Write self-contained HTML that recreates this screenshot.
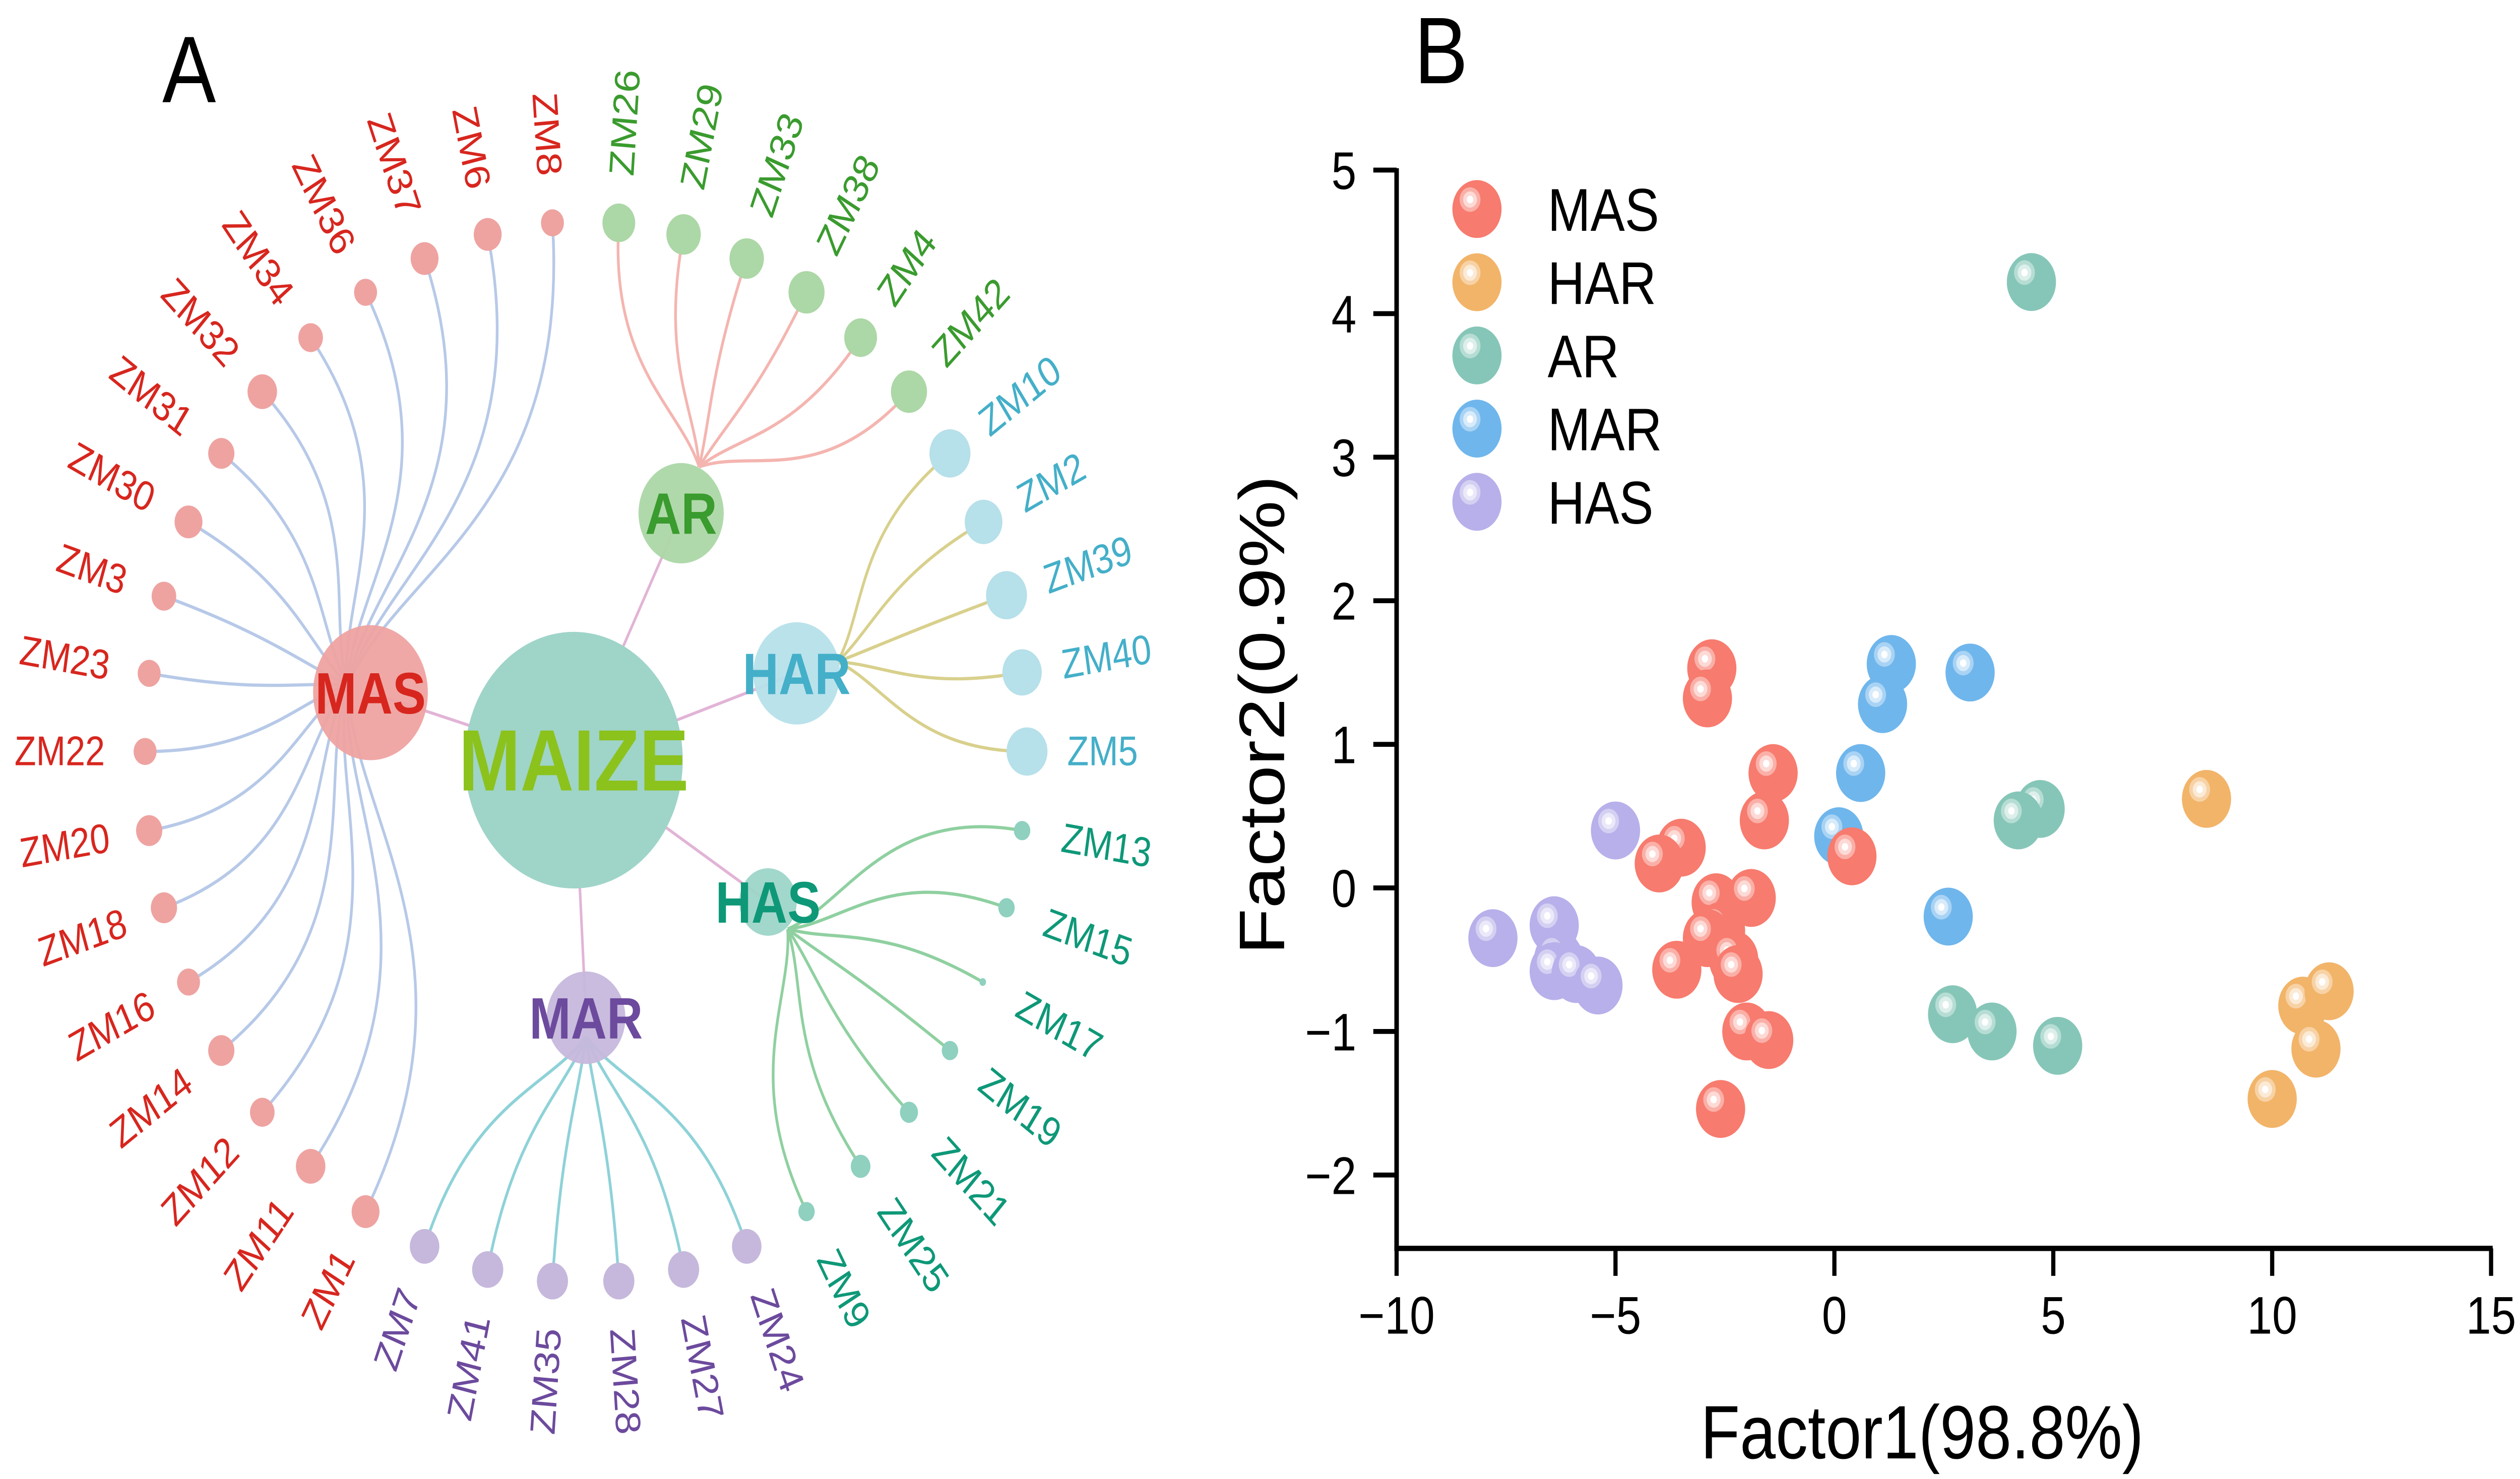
<!DOCTYPE html>
<html><head><meta charset="utf-8">
<style>
html,body{margin:0;padding:0;background:#fff;overflow:hidden;width:100%;height:100%;}
svg{display:block;position:fixed;left:0;top:0;width:100vw;height:100vh;}
text{font-family:"Liberation Sans",Arial,sans-serif;}
</style></head>
<body>
<svg id="fig" viewBox="0 0 1568 781.9" preserveAspectRatio="none" xmlns="http://www.w3.org/2000/svg">
<g id="panelA"></g>
<g id="panelB"></g>
</svg>
<script>
// ---------------- Panel B data ----------------
const groupNames = ["MAS","HAR","AR","MAR","HAS"];
const groupColors = ["#f77b6e","#f2b469","#86c6b8","#6fb6ec","#b7b0ea"];
const masX = [-2.8,-2.9,-1.4,-1.6,-3.5,-4.0,0.4,-2.7,-1.9,-2.6,-2.9,-2.3,-2.2,-3.6,-2.0,-1.5,-2.6];
const masY = [1.53,1.32,0.80,0.47,0.28,0.17,0.22,-0.10,-0.07,-0.30,-0.35,-0.50,-0.60,-0.57,-1.00,-1.06,-1.54];
const harX = [8.5,10.7,11.3,11.0,10.0];
const harY = [0.62,-0.82,-0.72,-1.12,-1.47];
const arX = [4.5,4.7,4.2,2.7,3.6,5.1];
const arY = [4.22,0.55,0.47,-0.88,-1.00,-1.10];
const marX = [1.3,1.1,3.1,0.6,0.1,2.6];
const marY = [1.56,1.28,1.50,0.80,0.36,-0.20];
const hasX = [-5.0,-7.8,-6.4,-6.3,-6.4,-5.9,-5.4];
const hasY = [0.40,-0.35,-0.26,-0.50,-0.58,-0.60,-0.68];
const xTicks = [-10,-5,0,5,10,15];
const yTicks = [-2,-1,0,1,2,3,4,5];
const xTickLabels = ["\u221210","\u22125","0","5","10","15"];
const yTickLabels = ["\u22122","\u22121","0","1","2","3","4","5"];

// ---------------- Panel A data ----------------
const hubNames = ["MAS","AR","HAR","HAS","MAR"];
const leafNames = [
 ["ZM8","ZM6","ZM37","ZM36","ZM34","ZM32","ZM31","ZM30","ZM3","ZM23","ZM22","ZM20","ZM18","ZM16","ZM14","ZM12","ZM11","ZM1"],
 ["ZM26","ZM29","ZM33","ZM38","ZM4","ZM42"],
 ["ZM10","ZM2","ZM39","ZM40","ZM5"],
 ["ZM13","ZM15","ZM17","ZM19","ZM21","ZM25","ZM9"],
 ["ZM24","ZM27","ZM28","ZM35","ZM41","ZM7"]
];
const leafSizes = [
 [14,17,17,14,15,18,16,17,15,14,14,16,16,14,16,15,18,17],
 [20,21,21,22,20,22],
 [25,23,25,24,25],
 [10,10,4,10,11,12,10],
 [18,19,19,19,19,18]
];

const NS="http://www.w3.org/2000/svg";
function mk(tag,attrs,parent){const e=document.createElementNS(NS,tag);for(const k in attrs)e.setAttribute(k,attrs[k]);parent.appendChild(e);return e;}

// ===== Panel A =====
(function(){
 const A=document.getElementById('panelA');
 const s=0.51;
 const t=mk('text',{x:101,y:54,'font-size':50},A);t.textContent='A';
 
 
 const leafPos=[
  [[674,231],[595,243],[518,268],[446,303],[379,350],[320,406],[270,470],[230,541],[200,618],[182,698],[177,779],[182,861],[200,941],[230,1018],[270,1089],[320,1153],[379,1209],[446,1256]],
  [[755,231],[834,243],[911,268],[984,303],[1050,350],[1109,406]],
  [[1159,470],[1200,541],[1228,617],[1247,697],[1253,779]],
  [[1247,861],[1228,941],[1199,1018],[1159,1089],[1109,1153],[1050,1209],[984,1256]],
  [[911,1292],[834,1316],[755,1328],[674,1328],[595,1316],[518,1292]]
 ];
 const hubPos=[[452,718,70],[831,532,52],[972,698,53],[937,935,35],[715,1055,48]];
 const hubOff=[[-28,-8],[22,-48],[50,-12],[24,28],[0,20]];
 const hubFill=["#eea3a1","#acd7a6","#b6e0ea","#9dd5c8","#c6b8dc"];
 const hubText=["#d7261e","#3a9b2e","#44afc9","#0e9878","#6c4a9d"];
 const edgeCol=["#b7c9e8","#f4b5b0","#d8d08c","#8fd0a0","#8ed2d8"];
 const leafFill=["#eea3a1","#acd7a6","#b6e0ea","#8fd0bf","#c6b8dc"];
 const cx=715*s, cy=779.5*s;
 const maize=[700*s,788*s,133*s];
 hubPos.forEach((h,i)=>{
  const l=mk('line',{x1:maize[0],y1:maize[1],x2:h[0]*s,y2:h[1]*s,stroke:'#e2b4d6','stroke-width':1.6},A);
  
  
 });
 hubPos.forEach((h,i)=>{
  const hx=h[0]*s+hubOff[i][0]*s, hy=h[1]*s+hubOff[i][1]*s;
  leafPos[i].forEach((p,j)=>{
   const lx=p[0]*s, ly=p[1]*s;
   const dx=lx-cx, dy=ly-cy, d=Math.hypot(dx,dy);
   const dist=Math.hypot(lx-hx,ly-hy);
   const c2x=lx-dx/d*dist*0.55, c2y=ly-dy/d*dist*0.55;
   const c1x=hx+(lx-hx)*0.25, c1y=hy+(ly-hy)*0.25;
   const path=mk('path',{d:`M${hx},${hy} C${c1x},${c1y} ${c2x},${c2y} ${lx},${ly}`,fill:'none',stroke:edgeCol[i],'stroke-width':1.7},A);
   
   
  });
 });
 const mc=mk('circle',{cx:maize[0],cy:maize[1],r:maize[2],fill:'#9fd4c9'},A);
 
 
 hubPos.forEach((h,i)=>{
  const c=mk('circle',{cx:h[0]*s,cy:h[1]*s,r:h[2]*s,fill:hubFill[i],'fill-opacity':0.95},A);
  
  
 });
 hubPos.forEach((h,i)=>{
  leafPos[i].forEach((p,j)=>{
   const lx=p[0]*s, ly=p[1]*s;
   const c=mk('circle',{cx:lx,cy:ly,r:leafSizes[i][j]*s,fill:leafFill[i]},A);
   
   
   const dx=lx-cx, dy=ly-cy, d=Math.hypot(dx,dy);
   const ang=Math.atan2(dy,dx)*180/Math.PI;
   const R=d+25;
   const tx=cx+dx/d*R, ty=cy+dy/d*R;
   const right=dx>=0;
   const rot=right?ang:ang+180;
   const tt=mk('text',{x:tx,y:ty,'font-size':22,fill:hubText[i],'text-anchor':right?'start':'end','dominant-baseline':'central',transform:`rotate(${rot} ${tx} ${ty})`},A);
   tt.textContent=leafNames[i][j];
   
   
  });
 });
 hubPos.forEach((h,i)=>{
  const tt=mk('text',{x:h[0]*s,y:h[1]*s+11,'font-size':31,'font-weight':'bold',fill:hubText[i],'text-anchor':'middle'},A);
  tt.textContent=hubNames[i];
  
  
 });
 const mt=mk('text',{x:maize[0],y:maize[1]+16,'font-size':46,'font-weight':'bold',fill:'#8cc21c','text-anchor':'middle'},A);
 mt.textContent='MAIZE';
 
 
})();

// ===== Panel B =====
(function(){
 const B=document.getElementById('panelB');
 const x0=869, y0=660;
 const xs=v=>869+(v+10)*27.24;
 const ys=v=>469.4-v*75.9;
 const lb=mk('text',{x:880,y:44,'font-size':50},B);lb.textContent='B';
 
 
 const ya=mk('line',{x1:x0,y1:ys(5)-1,x2:x0,y2:y0+1.4,stroke:'#000','stroke-width':2.8},B);
 
 
 const xa=mk('line',{x1:x0-1.4,y1:y0,x2:xs(15)+1,y2:y0,stroke:'#000','stroke-width':2.8},B);
 
 
 yTicks.forEach((v,i)=>{
  const tk=mk('line',{x1:x0-14.5,y1:ys(v),x2:x0,y2:ys(v),stroke:'#000','stroke-width':2.6},B);
  
  
  const tl=mk('text',{x:x0-25,y:ys(v)+10,'font-size':28,'text-anchor':'end'},B);
  tl.textContent=yTickLabels[i];
  
  
 });
 xTicks.forEach((v,i)=>{
  const tk=mk('line',{x1:xs(v),y1:y0,x2:xs(v),y2:y0+14.5,stroke:'#000','stroke-width':2.6},B);
  
  
  const tl=mk('text',{x:xs(v),y:y0+45,'font-size':28,'text-anchor':'middle'},B);
  tl.textContent=xTickLabels[i];
  
  
 });
 const xt=mk('text',{x:1196,y:771,'font-size':40,'text-anchor':'middle'},B);
 xt.textContent='Factor1(98.8%)';
 
 
 const yt=mk('text',{x:0,y:0,'font-size':40,'text-anchor':'middle',transform:'translate(799,378) rotate(-90)'},B);
 yt.textContent='Factor2(0.9%)';
 
 

 function light(hex,f){const n=parseInt(hex.slice(1),16);let r=n>>16,g=(n>>8)&255,b=n&255;r=Math.round(r+(255-r)*f);g=Math.round(g+(255-g)*f);b=Math.round(b+(255-b)*f);return `rgb(${r},${g},${b})`;}
 function ball(px,py,col,parent,name){
  const g=mk('g',{},parent);
  
  
  const R=15.3;
  mk('circle',{cx:px,cy:py,r:R,fill:col},g);
  mk('circle',{cx:px-4.3,cy:py-5,r:6.5,fill:light(col,0.4)},g);
  mk('circle',{cx:px-4.3,cy:py-5,r:4.3,fill:light(col,0.72)},g);
  mk('circle',{cx:px-4.3,cy:py-5,r:2.0,fill:'#ffffff'},g);
 }
 const series=[[masX,masY],[harX,harY],[arX,arY],[marX,marY],[hasX,hasY]];
 const order=[4,3,2,1,0];
 order.forEach(gi=>{
  const [X,Y]=series[gi];
  X.forEach((v,k)=>ball(xs(v),ys(Y[k]),groupColors[gi],B,'point-'+groupNames[gi].toLowerCase()));
 });
 groupNames.forEach((n,i)=>{
  const yy=110.5+i*38.7;
  ball(919,yy,groupColors[i],B,'legend-marker-'+n.toLowerCase());
  const tt=mk('text',{x:963,y:yy+11.5,'font-size':32},B);
  tt.textContent=n;
  
  
 });
})();
</script>
</body></html>
